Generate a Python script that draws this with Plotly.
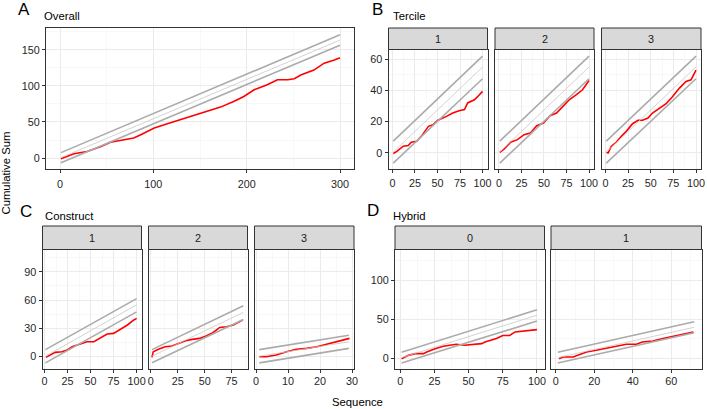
import plotly.graph_objects as go

# ---------------- data ----------------
# Panel A: Overall
A_x = [1, 15, 29, 44, 54, 65, 79, 86, 101, 115, 129, 144, 158, 172, 186, 197, 208, 222, 233, 244, 251, 258, 272, 283, 294, 300]
A_y = [-1, 6, 9, 16, 22, 24.5, 27.7, 32, 41.5, 47.5, 53, 58.6, 64.6, 70.6, 78.5, 85.4, 94.6, 101.5, 108.5, 108.5, 110, 115, 122, 131.5, 136, 139]

# Panel B: Tercile 1..3
B1_x = [1, 5, 12, 17.6, 21, 27, 32, 40, 45, 50.5, 60, 67, 74, 80, 83.5, 91, 94.5, 100]
B1_y = [-0.4, 1, 4.3, 4.7, 6.8, 7.4, 10.6, 17, 18, 20.9, 23.4, 25.5, 27, 27.7, 32, 34, 36, 39.4]
B2_x = [1, 6, 13, 20.6, 28, 35, 42, 49.5, 56.7, 64, 71, 78, 85.6, 92.8, 100]
B2_y = [0.4, 2.6, 6.8, 8.5, 11.7, 12.8, 17.4, 19.1, 23.8, 25.5, 29.8, 34, 37.2, 40.4, 46.4]
B3_x = [1, 3, 6.6, 12, 17.6, 23, 30, 36, 41, 47, 52, 59.7, 67, 74, 81.7, 89, 94.5, 100]
B3_y = [0.4, 0, 4.3, 6.8, 10.6, 13.8, 18.7, 20.9, 20.9, 22.3, 25.5, 28.7, 31.5, 36, 41.5, 45.7, 46.8, 53]

# Panel C: Construct 1..3
C1_x = [1.5, 6, 11.5, 19, 24.5, 30, 39, 46, 53.5, 60.5, 68, 75, 82.5, 90, 97, 100]
C1_y = [-0.7, 1.8, 4.6, 5.3, 7, 10.6, 13.4, 15.9, 15.9, 20, 24, 24.7, 29, 33.6, 38.9, 40.6]
C2_x = [1, 2.2, 7, 13.3, 19.6, 26, 32.3, 38.6, 45, 51.3, 57.6, 64, 70.3, 76.6, 85.4]
C2_y = [-0.7, 5.3, 7.8, 10.6, 11.3, 14, 17, 18.4, 19.4, 22, 25.4, 31, 31.8, 33.6, 38.9]
C3_x = [1, 3.2, 6.3, 9.5, 12.6, 15.8, 19, 22, 25.3, 29.2]
C3_y = [0, 0, 1.8, 5.3, 7.8, 8.8, 10.6, 13.4, 15.9, 19.4]

# Panel D: Hybrid 0..1
D1_x = [1, 6, 11, 17, 19.4, 25.5, 31.5, 36.4, 41, 47, 53, 59.5, 62, 65.5, 70.4, 75, 80, 84, 90, 94.7, 100]
D1_y = [-1, 3.4, 5.6, 5.6, 7.7, 12, 15, 16.3, 17.6, 16.3, 17.6, 18.5, 20.6, 22.7, 25, 29, 29, 33.5, 34.3, 35.6, 36.5]
D2_x = [1.7, 3.8, 9, 12.5, 16, 21, 26.3, 31.5, 36.7, 42, 45, 50.5, 55.7, 61, 66, 71.6]
D2_y = [-1, 1.3, 1.3, 4.3, 7.7, 9.9, 12, 15, 17.6, 17.6, 20.6, 21.9, 25, 27.9, 30, 33.5]

# Control-limit lines: x at start/end, and (start, end) values of upper / expected / lower lines
A_lim_x = [1, 300];  A_upper = [7.5, 171];  A_mid = [0.5, 163.5];  A_lower = [-6.5, 156.5]
B_lim_x = [1, 100];  B_upper = [7.5, 62];   B_mid = [0.5, 55];     B_lower = [-6.5, 47.5]
C1_lim_x = [1, 100]; C1_upper = [7.5, 61.5]; C1_mid = [0.5, 55];   C1_lower = [-6.5, 47.5]
C2_lim_x = [1, 86];  C2_upper = [7.5, 54];  C2_mid = [0.5, 47];    C2_lower = [-6.5, 39.5]
C3_lim_x = [1, 29];  C3_upper = [7.5, 22.8]; C3_mid = [0.5, 15.8]; C3_lower = [-6.5, 8.8]
D1_lim_x = [1, 100]; D1_upper = [7.5, 62];  D1_mid = [0.5, 55];    D1_lower = [-6.5, 47.5]
D2_lim_x = [1, 72];  D2_upper = [7.5, 46.5]; D2_mid = [0.5, 39.5]; D2_lower = [-6.5, 32.5]

# Tick labels
A_xticks = [0, 100, 200, 300];  A_yticks = [0, 50, 100, 150]
B_xticks = [0, 25, 50, 75, 100]; B_yticks = [0, 20, 40, 60]
C_xticks12 = [0, 25, 50, 75, 100]; C_xticks3 = [0, 10, 20, 30]; C_yticks = [0, 30, 60, 90]
D_xticks1 = [0, 25, 50, 75, 100]; D_xticks2 = [0, 20, 40, 60]; D_yticks = [0, 50, 100]

B_strips = ["1", "2", "3"]
C_strips = ["1", "2", "3"]
D_strips = ["0", "1"]

# ---------------- layout helpers ----------------
W, H = 707, 409
FONT = "Liberation Sans, Arial, sans-serif"
RED = "#ff0000"
GREY = "#ababab"
GREY_MID = "#c8c8c8"
BORDER = "#333333"
TICKCOL = "#1f1f1f"


def xd(a, b):
    return [a / W, b / W]


def yd(top, bot):
    return [1 - bot / H, 1 - top / H]


fig = go.Figure()
layout = {}
shapes = []
annotations = []

facets = [
    dict(x=A_x, y=A_y, lx=A_lim_x, up=A_upper, mid=A_mid, lo=A_lower,
         box=(46, 354, 27.5, 169), xr=[-15, 315], yr=[-15.2, 181],
         xt=A_xticks, yt=A_yticks, xm=50, ym=25, ylab=True, strip=None, so=2),
    dict(x=B1_x, y=B1_y, lx=B_lim_x, up=B_upper, mid=B_mid, lo=B_lower,
         box=(388.5, 487.5, 49.5, 169), xr=[-4.3, 105.5], yr=[-10.3, 66.2],
         xt=B_xticks, yt=B_yticks, xm=12.5, ym=10, ylab=True, strip=B_strips[0], stop=28, so=1),
    dict(x=B2_x, y=B2_y, lx=B_lim_x, up=B_upper, mid=B_mid, lo=B_lower,
         box=(495, 594, 49.5, 169), xr=[-4.3, 105.5], yr=[-10.3, 66.2],
         xt=B_xticks, yt=B_yticks, xm=12.5, ym=10, ylab=False, strip=B_strips[1], stop=28, so=1),
    dict(x=B3_x, y=B3_y, lx=B_lim_x, up=B_upper, mid=B_mid, lo=B_lower,
         box=(601.5, 701, 49.5, 169), xr=[-4.3, 105.5], yr=[-10.3, 66.2],
         xt=B_xticks, yt=B_yticks, xm=12.5, ym=10, ylab=False, strip=B_strips[2], stop=28, so=1),
    dict(x=C1_x, y=C1_y, lx=C1_lim_x, up=C1_upper, mid=C1_mid, lo=C1_lower,
         box=(42.5, 141.5, 249.5, 368.5), xr=[-2.2, 105.3], yr=[-12.5, 113.6],
         xt=C_xticks12, yt=C_yticks, xm=12.5, ym=15, ylab=True, strip=C_strips[0], stop=226, so=0),
    dict(x=C2_x, y=C2_y, lx=C2_lim_x, up=C2_upper, mid=C2_mid, lo=C2_lower,
         box=(148.5, 247.5, 249.5, 368.5), xr=[-2.2, 89.8], yr=[-12.5, 113.6],
         xt=C_xticks12, yt=C_yticks, xm=12.5, ym=15, ylab=False, strip=C_strips[1], stop=226, so=0),
    dict(x=C3_x, y=C3_y, lx=C3_lim_x, up=C3_upper, mid=C3_mid, lo=C3_lower,
         box=(254.5, 354, 249.5, 368.5), xr=[-0.5, 30.6], yr=[-12.5, 113.6],
         xt=C_xticks3, yt=C_yticks, xm=5, ym=15, ylab=False, strip=C_strips[2], stop=226, so=0),
    dict(x=D1_x, y=D1_y, lx=D1_lim_x, up=D1_upper, mid=D1_mid, lo=D1_lower,
         box=(395, 544.5, 249.5, 368.5), xr=[-3.8, 105.5], yr=[-13.5, 139.5],
         xt=D_xticks1, yt=D_yticks, xm=12.5, ym=25, ylab=True, strip=D_strips[0], stop=226, so=0),
    dict(x=D2_x, y=D2_y, lx=D2_lim_x, up=D2_upper, mid=D2_mid, lo=D2_lower,
         box=(551, 701.5, 249.5, 368.5), xr=[-2.5, 75.8], yr=[-13.5, 139.5],
         xt=D_xticks2, yt=D_yticks, xm=10, ym=25, ylab=False, strip=D_strips[1], stop=226, so=0),
]

for i, f in enumerate(facets, start=1):
    xa = "x" if i == 1 else f"x{i}"
    ya = "y" if i == 1 else f"y{i}"
    fig.add_trace(go.Scatter(x=f["x"], y=f["y"], mode="lines", xaxis=xa, yaxis=ya,
                             line=dict(color=RED, width=1.6), showlegend=False, hoverinfo="skip"))
    fig.add_trace(go.Scatter(x=f["lx"], y=f["mid"], mode="lines", xaxis=xa, yaxis=ya,
                             line=dict(color=GREY_MID, width=0.8), showlegend=False, hoverinfo="skip"))
    for key in ("up", "lo"):
        fig.add_trace(go.Scatter(x=f["lx"], y=f[key], mode="lines", xaxis=xa, yaxis=ya,
                                 line=dict(color=GREY, width=1.6), showlegend=False, hoverinfo="skip"))

    x0, x1, top, bot = f["box"]
    common = dict(showline=True, mirror=True, linecolor=BORDER, linewidth=1,
                  showgrid=True, gridcolor="#ebebeb", gridwidth=1, zeroline=False,
                  ticklen=3, tickwidth=1, tickcolor=BORDER, automargin=False,
                  tickfont=dict(size=10.8, color=TICKCOL, family=FONT), fixedrange=True)
    layout["xaxis" if i == 1 else f"xaxis{i}"] = dict(
        domain=xd(x0, x1), anchor=ya, range=f["xr"], tickmode="array", tickvals=f["xt"],
        ticks="outside", ticklabelstandoff=f["so"],
        minor=dict(dtick=f["xm"], tick0=0, showgrid=True, gridcolor="#f3f3f3", gridwidth=0.6),
        **common)
    layout["yaxis" if i == 1 else f"yaxis{i}"] = dict(
        domain=yd(top, bot), anchor=xa, range=f["yr"], tickmode="array", tickvals=f["yt"],
        ticks="outside" if f["ylab"] else "", showticklabels=f["ylab"],
        minor=dict(dtick=f["ym"], tick0=0, showgrid=True, gridcolor="#f3f3f3", gridwidth=0.6),
        **common)
    if f["strip"] is not None:
        shapes.append(dict(type="rect", xref="paper", yref="paper",
                           x0=x0 / W, x1=x1 / W, y0=1 - top / H, y1=1 - f["stop"] / H,
                           fillcolor="#d9d9d9", line=dict(color=BORDER, width=1), layer="above"))
        annotations.append(dict(text=f["strip"], xref="paper", yref="paper",
                                x=(x0 + x1) / 2 / W, y=1 - (top + f["stop"]) / 2 / H,
                                showarrow=False, xanchor="center", yanchor="middle",
                                font=dict(size=10.8, color="#1a1a1a", family=FONT)))

for letter, lx, ly, title, tx, ty in [
    ("A", 23.5, 9.5, "Overall", 42, 16),
    ("B", 377, 9.5, "Tercile", 391, 16),
    ("C", 26.5, 211, "Construct", 43, 216),
    ("D", 373, 210, "Hybrid", 391, 216),
]:
    annotations.append(dict(text=letter, xref="paper", yref="paper", x=lx / W, y=1 - ly / H,
                            showarrow=False, xanchor="center", yanchor="middle",
                            font=dict(size=17, color="#000000", family=FONT)))
    annotations.append(dict(text=title, xref="paper", yref="paper", x=tx / W, y=1 - ty / H,
                            showarrow=False, xanchor="left", yanchor="middle",
                            font=dict(size=11.3, color="#000000", family=FONT)))

annotations.append(dict(text="Cumulative Sum", xref="paper", yref="paper", x=5.5 / W, y=1 - 173 / H,
                        showarrow=False, textangle=-90, xanchor="center", yanchor="middle",
                        font=dict(size=11.3, color="#000000", family=FONT)))
annotations.append(dict(text="Sequence", xref="paper", yref="paper", x=357.5 / W, y=1 - 402 / H,
                        showarrow=False, xanchor="center", yanchor="middle",
                        font=dict(size=11.3, color="#000000", family=FONT)))

fig.update_layout(width=W, height=H, autosize=False,
                  margin=dict(l=0, r=0, t=0, b=0),
                  paper_bgcolor="white", plot_bgcolor="white",
                  font=dict(family=FONT), showlegend=False,
                  shapes=shapes, annotations=annotations, **layout)

fig.write_html("out.html",
               config={"displayModeBar": False, "staticPlot": True},
               post_script="document.body.style.margin='0';document.body.style.padding='0';"
                           "document.body.style.overflow='hidden';")
